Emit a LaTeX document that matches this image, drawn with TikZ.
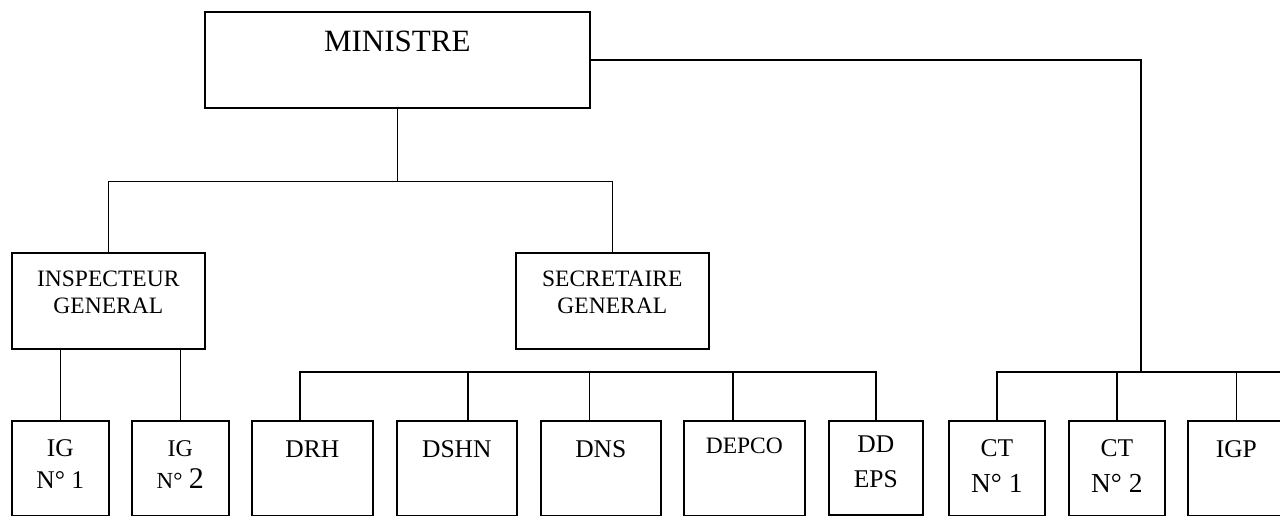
\documentclass[tikz,border=0pt]{standalone}
\usepackage{fontspec}
\setmainfont{Liberation Serif}
\usetikzlibrary{positioning}
\tikzstyle{unit} = [
    rectangle, draw=black, line width=1.6pt,
    inner sep=0pt, anchor=north west]
\tikzstyle{chief} = [unit, minimum width=385pt, minimum height=96pt]
\tikzstyle{office} = [unit, minimum width=193pt, minimum height=96pt]
\tikzstyle{post} = [unit, minimum height=95pt]
\tikzstyle{caption} = [align=center, anchor=base, inner sep=0pt,
    font=\fontsize{25.5}{32}\selectfont]
\tikzstyle{link} = [line width=1.6pt]

\begin{document}
\begin{tikzpicture}[x=1pt, y=-1pt]
  \useasboundingbox (0,0) rectangle (1280,516);

  \node (mini) [chief, label={[caption, label distance=-41pt, font=\fontsize{31}{36}\selectfont]north:MINISTRE}] at (204,11) {};

  \node (ig) [office, label={[caption, label distance=-61pt, font=\fontsize{23.5}{27}\selectfont]north:INSPECTEUR\\GENERAL}] at (11,252) {};
  \node (sg) [office, label={[caption, label distance=-61pt, font=\fontsize{23.5}{27}\selectfont]north:SECRETAIRE\\GENERAL}] at (515,252) {};

  \node (ig1) [post, minimum width=97pt, label={[caption, label distance=-68pt]north:IG\\N° 1}] at (11,420) {};
  \node (ig2) [post, minimum width=97pt, label={[caption, label distance=-68pt]north:{\fontsize{24}{32}\selectfont IG}\\{\fontsize{23}{32}\selectfont N°} {\fontsize{30}{32}\selectfont 2}}] at (131,420) {};
  \node (drh) [post, minimum width=121pt, label={[caption, label distance=-37pt]north:DRH}] at (251,420) {};
  \node (dshn) [post, minimum width=120pt, label={[caption, label distance=-37pt]north:DSHN}] at (396,420) {};
  \node (dns) [post, minimum width=120pt, label={[caption, label distance=-37pt]north:DNS}] at (540,420) {};
  \node (depco) [post, minimum width=121pt, label={[caption, label distance=-33pt, font=\fontsize{23.5}{28}\selectfont]north:DEPCO}] at (683,420) {};
  \node (ddeps) [post, minimum width=94pt, minimum height=94pt, label={[caption, label distance=-67pt]north:DD\\[3pt]EPS}] at (828,420) {};
  \node (ct1) [post, minimum width=96pt, label={[caption, label distance=-72pt]north:CT\\[4pt]{\fontsize{27.5}{32}\selectfont N° 1}}] at (948,420) {};
  \node (ct2) [post, minimum width=96pt, label={[caption, label distance=-72pt]north:CT\\[4pt]{\fontsize{27.5}{32}\selectfont N° 2}}] at (1068,420) {};
  \node (igp) [post, minimum width=97pt, label={[caption, label distance=-37pt]north:IGP}] at (1187,420) {};

  \coordinate (ctjoin) at (1141,372);

  \draw [link] (mini.south) -- ++(0,73) coordinate (hub);
  \draw [link] (ig.north) |- (hub) -| (sg.north);
  \draw [link] (ig1.north) -- (ig1.north |- ig.south);
  \draw [link] (ig2.north) -- (ig2.north |- ig.south);

  % directions under the secretary
  \draw [link] ([xshift=-12.5pt]drh.north) |- ([yshift=48pt]ddeps.north) -- (ddeps.north);
  \draw [link] ([xshift=11pt]dshn.north) -- +(0,-48);
  \draw [link] ([xshift=-11.5pt]dns.north) -- +(0,-48);
  \draw [link] ([xshift=-11.5pt]depco.north) -- +(0,-48);

  % cabinet
  \draw [link] (mini.east) -| (ctjoin);
  \draw [link] (ct1.north) |- ([yshift=48pt]igp.north) -- (igp.north);
  \draw [link] (ct2.north) -- +(0,-48);
  \draw [link] ([yshift=48pt]igp.north) -- +(60,0);

\end{tikzpicture}
\end{document}
